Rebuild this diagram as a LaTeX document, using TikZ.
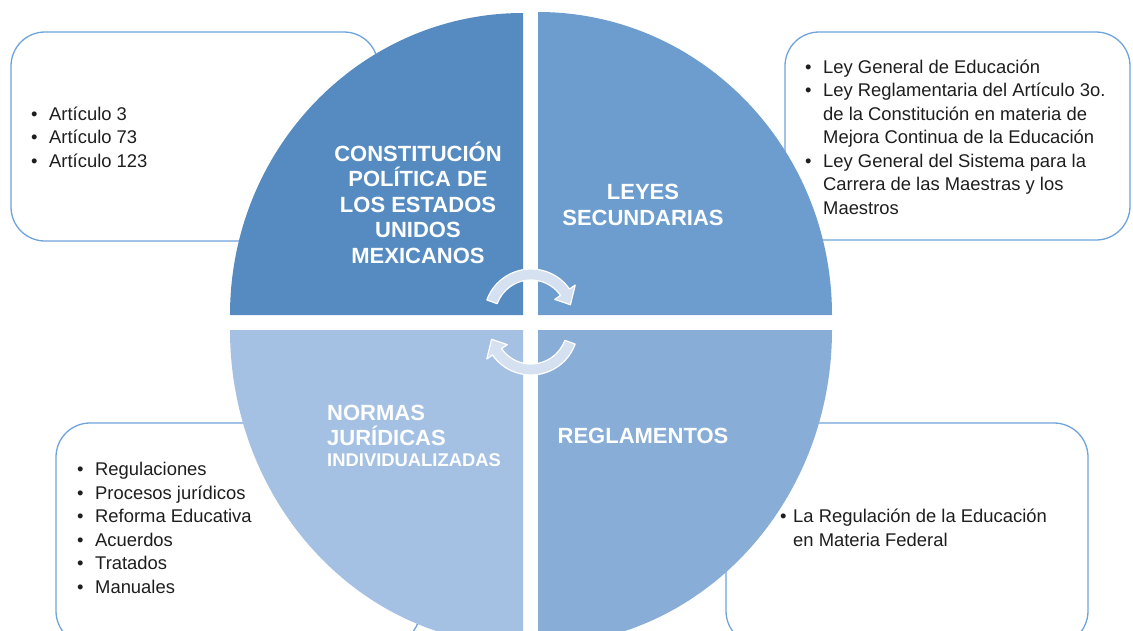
\documentclass[tikz,border=0pt]{standalone}
\usepackage{fontspec}
\setmainfont{Liberation Sans}
\setsansfont{Liberation Sans}
\usepackage{tikz}
\definecolor{boxblue}{HTML}{6FA3DC}
\definecolor{quadone}{HTML}{558BC1}
\definecolor{quadtwo}{HTML}{6C9DCE}
\definecolor{quadthree}{HTML}{88ADD7}
\definecolor{quadfour}{HTML}{A4C1E4}
\definecolor{cyclefill}{HTML}{D5E0F0}
\definecolor{textdark}{HTML}{1E1E1E}
\newcommand{\itm}[1][18pt]{\makebox[#1][l]{\textbullet}}
\newcommand{\cnt}[1][18pt]{\hspace*{#1}}

\begin{document}
\begin{tikzpicture}[x=1pt, y=-1pt, font=\sffamily]
    \tikzstyle{listbox} = [draw=boxblue, line width=1.3pt, fill=white, rounded corners=34pt]
    \tikzstyle{quadlabel} = [anchor=base, align=center, text=white, inner sep=0pt,
      font=\sffamily\bfseries\fontsize{22}{25.5}\selectfont]
    \tikzstyle{itemlist} = [anchor=base west, align=left, text=textdark, inner sep=0pt,
      font=\sffamily\fontsize{18.4}{23.5}\selectfont]
    \tikzstyle{cyclearrow} = [fill=cyclefill, draw=white, line width=1.2pt, line join=round]

    \clip (0,0) rectangle (1133,630);

    \draw[listbox] (11,32) rectangle (378,241);
    \draw[listbox] (785,32) rectangle (1130,240);
    \draw[listbox] (56,423) rectangle (420,645);
    \draw[listbox] (726,423) rectangle (1088,645);

    \fill[quadone] (523,315) -- ++(-293,0) arc[start angle=180, end angle=270, x radius=293, y radius=302] -- cycle;
    \fill[quadtwo] (538,315) -- ++(294,0) arc[start angle=0, end angle=-90, x radius=294, y radius=303] -- cycle;
    \fill[quadthree] (538,330) -- ++(294,0) arc[start angle=0, end angle=90, x radius=294, y radius=315] -- cycle;
    \fill[quadfour] (523,330) -- ++(-293,0) arc[start angle=180, end angle=90, x radius=293, y radius=315] -- cycle;

    \node (constitucion) [quadlabel] at (418,263) {CONSTITUCIÓN\\POLÍTICA DE\\LOS ESTADOS\\UNIDOS\\MEXICANOS};
    \node (secundarias) [quadlabel] at (643,225) {LEYES\\SECUNDARIAS};
    \node (reglamentos) [quadlabel] at (643,443) {REGLAMENTOS};
    \node (normas) [quadlabel, anchor=base west, align=left] at (327,466)
      {NORMAS\\JURÍDICAS\\[-5pt]{\fontsize{18.4}{21}\selectfont INDIVIDUALIZADAS}};

    \node (articulos) [itemlist] at (31,167) {\itm Artículo 3\\\itm Artículo 73\\\itm Artículo 123};
    \node (leyeslist) [itemlist] at (805,214) {
      \itm Ley General de Educación\\
      \itm Ley Reglamentaria del Artículo 3o.\\
      \cnt de la Constitución en materia de\\
      \cnt Mejora Continua de la Educación\\
      \itm Ley General del Sistema para la\\
      \cnt Carrera de las Maestras y los\\
      \cnt Maestros};
    \node (normaslist) [itemlist] at (77,593) {
      \itm Regulaciones\\
      \itm Procesos jurídicos\\
      \itm Reforma Educativa\\
      \itm Acuerdos\\
      \itm Tratados\\
      \itm Manuales};
    \node (reglalist) [itemlist] at (780,546) {
      \itm[13pt]La Regulación de la Educación\\
      \cnt[13pt]en Materia Federal};

    \coordinate (cyctop) at (531,316);
    \coordinate (cycbot) at (531,328);
    \path[cyclearrow] ([shift={(200:47)}]cyctop) arc[start angle=200, end angle=325, radius=47]
      -- ([shift={(325:54)}]cyctop) -- ([shift={(344:41)}]cyctop) -- ([shift={(325:29)}]cyctop)
      -- ([shift={(325:36)}]cyctop) arc[start angle=325, end angle=200, radius=36] -- cycle;
    \path[cyclearrow] ([shift={(20:47)}]cycbot) arc[start angle=20, end angle=145, radius=47]
      -- ([shift={(145:54)}]cycbot) -- ([shift={(164:41)}]cycbot) -- ([shift={(145:29)}]cycbot)
      -- ([shift={(145:36)}]cycbot) arc[start angle=145, end angle=20, radius=36] -- cycle;
\end{tikzpicture}
\end{document}
